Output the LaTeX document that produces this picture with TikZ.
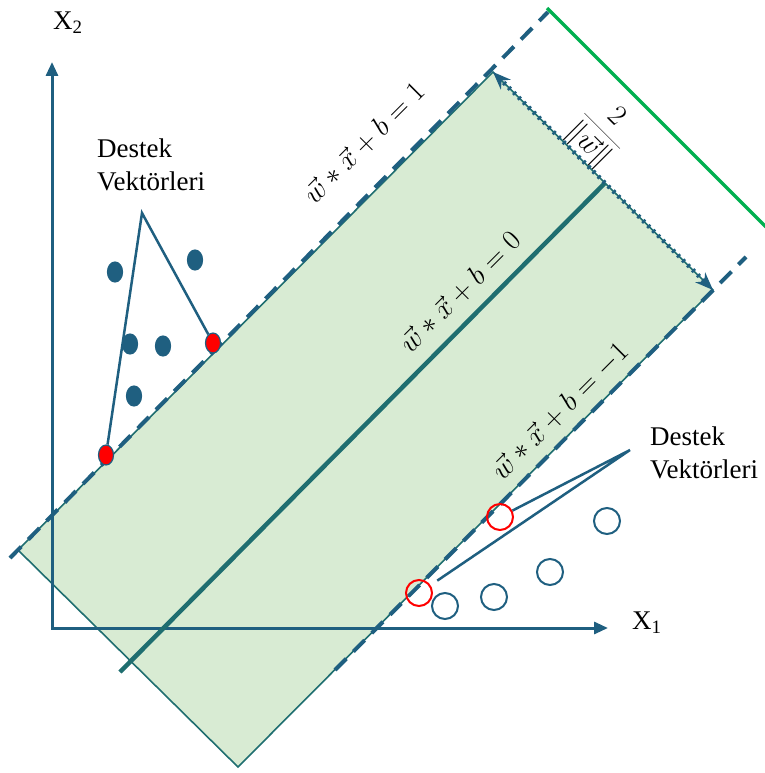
\RequirePackage{fix-cm}
\documentclass[tikz,border=0pt]{standalone}
\usepackage{fontspec}
\setmainfont{Liberation Serif}
\usetikzlibrary{arrows.meta,shapes.geometric}

\definecolor{axisblue}{HTML}{1F5F80}
\definecolor{bandgreen}{HTML}{D8EBD3}
\definecolor{midteal}{HTML}{1F6E70}
\definecolor{marggreen}{HTML}{00B050}

\begin{document}
\begin{tikzpicture}[x=1pt,y=-1pt,
  font=\fontsize{27}{33}\selectfont,
  dotA/.style={ellipse,draw=axisblue,fill=axisblue,line width=1.2pt,
    minimum width=15pt,minimum height=20pt,inner sep=0pt},
  svA/.style={dotA,fill=red},
  dotB/.style={circle,draw=axisblue,line width=2pt,minimum size=26pt,inner sep=0pt},
  svB/.style={dotB,draw=red},
  pointer/.style={draw=axisblue,line width=2.5pt},
  margin/.style={axisblue,line width=4pt,dash pattern=on 16pt off 10pt},
  eqn/.style={rotate=45,inner sep=0pt,font=\fontsize{28.5}{32}\selectfont}]
  \useasboundingbox (0,0) rectangle (764,773);
  % band between the two margins
  \coordinate (bandT) at (493,72);
  \coordinate (bandR) at (713,290);
  \coordinate (bandB) at (238,767);
  \coordinate (bandL) at (18,550);
  \filldraw[fill=bandgreen,draw=midteal,line width=1.6pt]
    (bandT) -- (bandR) -- (bandB) -- (bandL) -- cycle;
  % axes
  \coordinate (O) at (52,628);
  \coordinate (x1end) at (608,628);
  \coordinate (x2end) at (52,62);
  \draw[axisblue,line width=3pt,{Triangle[length=14pt,width=12pt]}-{Triangle[length=14pt,width=12pt]}]
    (x2end) -- (O) -- (x1end);
  \node[anchor=north west,inner sep=0pt] (x1lab) at (632,612) {X\textsubscript{1}};
  \node[anchor=north west,inner sep=0pt] (x2lab) at (53,12) {X\textsubscript{2}};
  % margins and hyperplane
  \coordinate (upA) at (10,558);
  \coordinate (upB) at (548,12);
  \draw[margin] (upA) -- (upB);
  \coordinate (lowA) at (335,670);
  \coordinate (lowB) at (746,257);
  \draw[margin] (lowA) -- (lowB);
  \coordinate (hypA) at (120,672);
  \coordinate (hypB) at (605,183);
  \draw[midteal,line width=4.5pt] (hypA) -- (hypB);
  % margin width
  \draw[axisblue,line width=4.5pt,dash pattern=on 2.5pt off 4.5pt,
    shorten <=8pt,shorten >=8pt] (bandT) -- (bandR);
  \draw[axisblue,line width=2pt,
    {Stealth[length=18pt,width=14pt]}-{Stealth[length=18pt,width=14pt]},
    dash pattern=on 0pt off 400pt] (bandT) -- (bandR);
  \coordinate (gA) at (547,8);
  \coordinate (gB) at (766,227);
  \draw[marggreen,line width=3.5pt] (gA) -- (gB);
  \node[rotate=-45,inner sep=0pt,font=\fontsize{29}{32}\selectfont] (widthlab) at (601,132)
    {$\displaystyle\frac{2}{\|\vec{w}\|}$};
  % labels of the lines
  \node[eqn] (eq1) at (364,143) {$\vec{w}*\vec{x}+b=1$};
  \node[eqn] (eq0) at (460,292) {$\vec{w}*\vec{x}+b=0$};
  \node[eqn] (eqm) at (560,411) {$\vec{w}*\vec{x}+b=-1$};
  % filled class
  \node[dotA] (p1) at (115,272) {};
  \node[dotA] (p2) at (195,260) {};
  \node[dotA] (p3) at (130,344) {};
  \node[dotA] (p4) at (163,346) {};
  \node[dotA] (p5) at (134,396) {};
  \node[svA] (sv1) at (213,343) {};
  \node[svA] (sv2) at (106,455) {};
  % hollow class
  \node[dotB] (q1) at (445,606) {};
  \node[dotB] (q2) at (494,597) {};
  \node[dotB] (q3) at (550,572) {};
  \node[dotB] (q4) at (607,521) {};
  \node[svB] (sv3) at (500,517) {};
  \node[svB] (sv4) at (419,593) {};
  % support vector labels
  \node[anchor=north west,align=left,inner sep=0pt] (svlabA) at (97,139) {Destek\\Vektörleri};
  \coordinate (tipA) at (142,213);
  \draw[pointer] (sv2) -- (tipA) -- (sv1);
  \node[anchor=north west,align=left,inner sep=0pt] (svlabB) at (650,427) {Destek\\Vektörleri};
  \coordinate (tipB) at (630,450);
  \draw[pointer,shorten >=8pt] (sv3) -- (tipB) -- (sv4);
\end{tikzpicture}
\end{document}
